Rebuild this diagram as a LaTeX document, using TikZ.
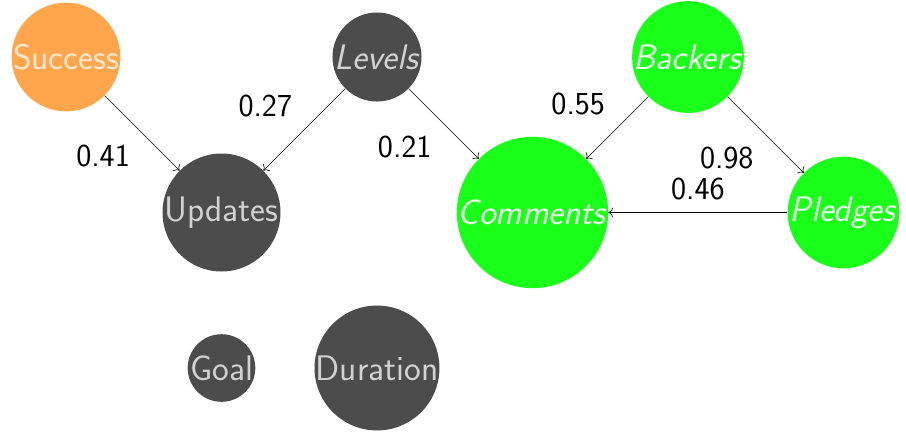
\documentclass[tikz,border=0pt]{standalone}
\usetikzlibrary{positioning,arrows.meta}
\begin{document}
\begin{tikzpicture}[->,>={To[scale=1.6]},line width=0.6pt,auto=right,on grid,node distance=155.5pt,
                main node/.style={circle,inner sep=0pt,text=white,text opacity=0.75,
                  font=\sffamily\fontsize{35.5}{42}\selectfont},
                gray node/.style={main node,fill=black!70},
                green node/.style={main node,fill=green!90,text opacity=0.92},
                orange node/.style={main node,fill=orange!70},
                weight/.style={inner sep=12pt,font=\sffamily\fontsize{32}{38}\selectfont}]
  \useasboundingbox (0,0) rectangle (906pt,-432pt);
  \node[orange node] (success) at (66pt,-57pt) {Success};
  \node[gray node] (levels) [right=311pt of success] {\textit{Levels}};
  \node[green node] (backers) [right=311pt of levels] {\textit{Backers}};
  \node[gray node] (updates) [below right=155.5pt and 155.5pt of success] {Updates};
  \node[green node] (comments) [right=311pt of updates] {\textit{Comments}};
  \node[green node] (pledges) [right=311pt of comments] {\textit{Pledges}};
  \node[gray node] (goal) [below=of updates] {Goal};
  \node[gray node] (duration) [right=of goal] {Duration};

  \path
    (success) edge node[weight] {0.41} (updates)
    (levels) edge node[weight] {0.27} (updates)
    (levels) edge node[weight] {0.21} (comments)
    (backers) edge node[weight] {0.55} (comments)
    (backers) edge node[weight] {0.98} (pledges)
    (pledges) edge node[weight] {0.46} (comments)
  ;
\end{tikzpicture}
\end{document}
